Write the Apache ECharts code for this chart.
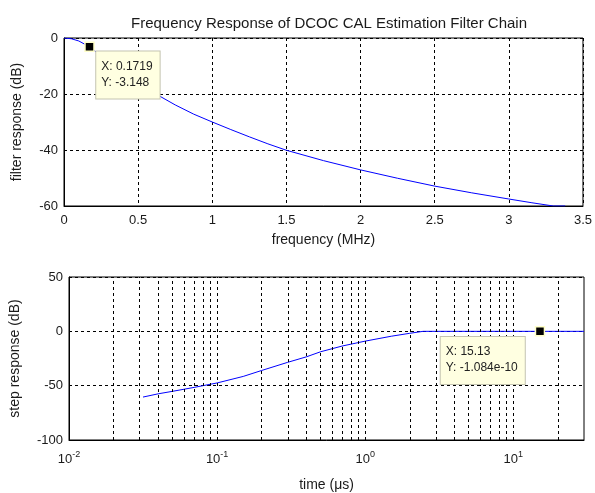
<!DOCTYPE html>
<html>
<head>
<meta charset="utf-8">
<script src="https://cdn.jsdelivr.net/npm/echarts@6/dist/echarts.min.js"></script>
<style>html,body{margin:0;padding:0;background:#fff}#c{width:595px;height:493px}</style>
</head>
<body>
<div id="c"></div>
<script>
const titleText = 'Frequency Response of DCOC CAL Estimation Filter Chain';
// Top plot: filter response
const freqMHz = [0, 0.05, 0.1, 0.1719, 0.25, 0.35, 0.5, 0.62, 0.75, 0.875, 1, 1.125, 1.25, 1.375, 1.5, 1.75, 2, 2.25, 2.5, 2.75, 3, 3.15, 3.3, 3.38];
const filterDb = [0, -0.27, -1.07, -3.148, -6.4, -10.6, -16.0, -20, -23.9, -27.2, -30, -32.7, -35.3, -37.8, -40.1, -43.8, -47.1, -50.1, -52.9, -55.3, -57.5, -58.8, -60, -60];
const freqTicks = [0, 0.5, 1, 1.5, 2, 2.5, 3, 3.5];
const filterTicks = [-60, -40, -20, 0];
const tip1 = {x: 0.1719, y: -3.148, text: 'X: 0.1719\nY: -3.148'};
// Bottom plot: step response
const timeUs = [0.0316, 0.04, 0.05, 0.07, 0.1, 0.15, 0.2, 0.3, 0.4, 0.5, 0.7, 1, 1.5, 2, 2.46, 5, 10, 15.13, 20, 30];
const stepDb = [-60.5, -57.5, -55.2, -51.6, -47.5, -41.5, -36, -28.5, -23.5, -18.8, -13.5, -9, -4.5, -1.8, 0, 0, 0, 0, 0, 0];
const stepTicks = [-100, -50, 0, 50];
const timeGridLines = [0.02,0.03,0.04,0.05,0.06,0.07,0.08,0.09,0.1,0.2,0.3,0.4,0.5,0.6,0.7,0.8,0.9,1,2,3,4,5,6,7,8,9,10,20];
const tip2 = {x: 15.13, y: 0, text: 'X: 15.13\nY: -1.084e-10'};

const FONT = 'Arial, "Liberation Sans", sans-serif';
const txt = '#1a1a1a';
const dash = {color: '#000', width: 1, type: [3, 3]};

const chart = echarts.init(document.getElementById('c'), null, {renderer: 'canvas'});

function tipLabel(pos) {
  return {
    show: true, position: pos, color: '#222', fontFamily: FONT, fontSize: 12, lineHeight: 16,
    backgroundColor: '#ffffe1', borderColor: '#c4c4b0', borderWidth: 1, padding: [7, 7, 8, 5],
    opacity: 1,
    formatter: p => p.data.text
  };
}

chart.setOption({
  animation: false,
  title: {text: titleText, left: 324, textAlign: 'center', top: 11,
          textStyle: {fontFamily: FONT, fontSize: 15, fontWeight: 'normal', color: txt}},
  grid: [
    {left: 64, top: 38, width: 521, height: 168, show: true, borderColor: '#000', borderWidth: 1},
    {left: 64, top: 277, width: 520, height: 167, show: true, borderColor: '#000', borderWidth: 1}
  ],
  xAxis: [
    {gridIndex: 0, type: 'value', min: freqTicks[0], max: freqTicks[freqTicks.length-1], interval: 0.5,
     name: 'frequency (MHz)', nameLocation: 'middle', nameGap: 27,
     nameTextStyle: {fontFamily: FONT, fontSize: 14, color: txt},
     axisLine: {onZero: false, lineStyle: {color: '#000'}}, axisTick: {show: false},
     axisLabel: {fontFamily: FONT, fontSize: 13, color: txt, margin: 8},
     splitLine: {show: true, lineStyle: dash}},
    {gridIndex: 1, type: 'log', logBase: 10, min: 0.01, max: 30,
     name: 'time (\u03bcs)', nameLocation: 'middle', nameGap: 38,
     nameTextStyle: {fontFamily: FONT, fontSize: 14, color: txt},
     axisLine: {onZero: false, lineStyle: {color: '#000'}}, axisTick: {show: false},
     axisLabel: {fontFamily: FONT, color: txt, margin: 10,
       formatter: v => { const l = Math.log10(v); const e = Math.round(l); if (Math.abs(l - e) > 1e-6) return ''; return '{b|10}{s|' + e + '}'; },
       rich: {b: {fontSize: 13, fontFamily: FONT, color: txt}, s: {fontSize: 9, fontFamily: FONT, color: txt, padding: [0, 0, 9, 0]}}},
     splitLine: {show: false}}
  ],
  yAxis: [
    {gridIndex: 0, type: 'value', min: -60, max: 0, interval: 20,
     name: 'filter response (dB)', nameLocation: 'middle', nameGap: 40,
     nameTextStyle: {fontFamily: FONT, fontSize: 14, color: txt},
     axisLine: {onZero: false, lineStyle: {color: '#000'}}, axisTick: {show: false},
     axisLabel: {fontFamily: FONT, fontSize: 13, color: txt, margin: 6},
     splitLine: {show: true, lineStyle: dash}},
    {gridIndex: 1, type: 'value', min: stepTicks[0], max: stepTicks[stepTicks.length-1], interval: 50,
     name: 'step response (dB)', nameLocation: 'middle', nameGap: 47,
     nameTextStyle: {fontFamily: FONT, fontSize: 14, color: txt},
     axisLine: {onZero: false, lineStyle: {color: '#000'}}, axisTick: {show: false},
     axisLabel: {fontFamily: FONT, fontSize: 13, color: txt, margin: 6},
     splitLine: {show: true, lineStyle: dash}}
  ],
  series: [
    {type: 'line', xAxisIndex: 0, yAxisIndex: 0, data: freqMHz.map((f, i) => [f, filterDb[i]]),
     showSymbol: false, lineStyle: {color: '#0000ff', width: 1}, z: 3},
    {type: 'line', xAxisIndex: 1, yAxisIndex: 1, data: timeUs.map((t, i) => [t, stepDb[i]]),
     showSymbol: false, lineStyle: {color: '#0000ff', width: 1}, z: 3,
     markLine: {silent: true, symbol: 'none', label: {show: false}, animation: false,
       lineStyle: dash, data: timeGridLines.map(v => ({xAxis: v}))}},
    {type: 'scatter', xAxisIndex: 0, yAxisIndex: 0, clip: false, z: 10, zlevel: 1, symbol: 'rect', symbolSize: 9,
     itemStyle: {color: '#000', borderColor: '#ffffc8', borderWidth: 1.5, opacity: 1},
     data: [{value: [tip1.x, tip1.y], text: tip1.text}], label: tipLabel([12, 10])},
    {type: 'scatter', xAxisIndex: 1, yAxisIndex: 1, clip: false, z: 10, zlevel: 1, symbol: 'rect', symbolSize: 9,
     itemStyle: {color: '#000', borderColor: '#ffffc8', borderWidth: 1.5, opacity: 1},
     data: [{value: [tip2.x, tip2.y], text: tip2.text}], label: tipLabel([-94, 11])}
  ]
});
</script>
</body>
</html>
